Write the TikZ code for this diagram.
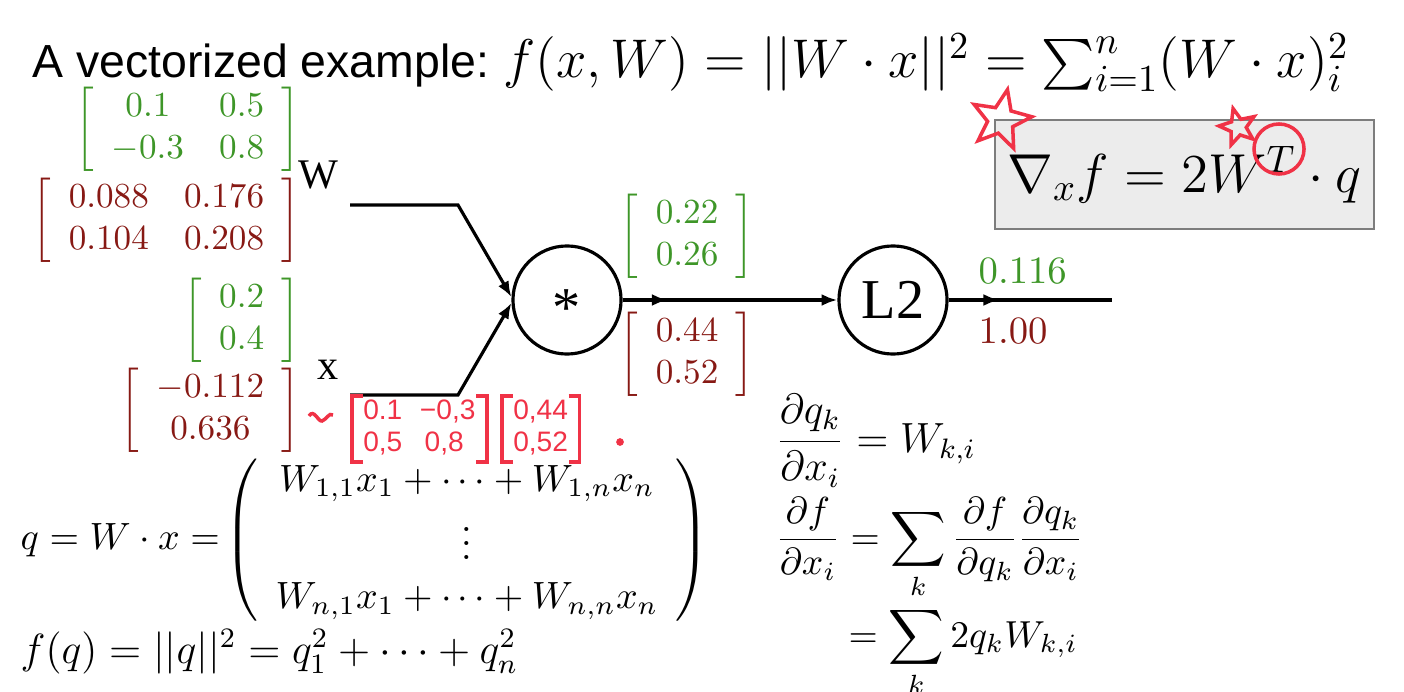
\documentclass[tikz,border=0pt]{standalone}
\usepackage{fix-cm}
\usepackage{amsmath}
\usepackage[no-math]{fontspec}
\newfontfamily\arialfont{Liberation Sans}
\newfontfamily\timesfont{Liberation Serif}
\definecolor{fwdgreen}{RGB}{62,150,40}
\definecolor{bwdred}{RGB}{135,25,20}
\definecolor{penred}{RGB}{240,50,70}
\definecolor{boxgray}{RGB}{236,236,236}
\definecolor{boxedge}{RGB}{125,125,125}
\usetikzlibrary{arrows.meta,positioning,calc,shapes.geometric,decorations.markings}

\begin{document}
\begin{tikzpicture}[x=0.01cm,y=-0.01cm,
  gate/.style={draw,circle,line width=0.9pt,minimum size=1.08cm,inner sep=0pt,font=\timesfont\fontsize{16}{18}\selectfont},
  fwdval/.style={inner sep=0pt,text=fwdgreen,font=\fontsize{10}{12}\selectfont},
  bwdval/.style={inner sep=0pt,text=bwdred,font=\fontsize{10}{12}\selectfont},
  wire/.style={line width=0.9pt},
  tip/.style={-{Latex[length=4.5pt,width=3.4pt]}},
  midtip/.style={postaction={decorate},decoration={markings,mark=at position #1 with {\arrow{Latex[length=4.5pt,width=3.4pt]}}}},
  pen/.style={draw=penred,line width=1pt},
  handnum/.style={inner xsep=3pt,inner ysep=0pt,text=penred,font=\arialfont\fontsize{8}{9.2}\selectfont}]
\useasboundingbox (0,0) rectangle (1404,691);
% heading
\node[anchor=base west,inner sep=0pt,font=\arialfont\fontsize{13.2}{15}\selectfont] (title) at (32,78) {A vectorized example:};
\node[anchor=base west,inner sep=0pt,font=\fontsize{15.5}{18}\selectfont] (fdef) at (503,78) {$f(x,W)=||W\cdot x||^2=\sum_{i=1}^{n}(W\cdot x)_i^2$};
\node[draw=boxedge,fill=boxgray,line width=0.5pt,minimum width=3.79cm,minimum height=1.09cm,inner sep=0pt,font=\fontsize{15.6}{18}\selectfont] (gradbox) at (1184.5,174.5) {$\nabla_x f=2W^T\cdot q$};
% values and gradients
\node[fwdval,anchor=east] (wval) at (301,129) {$\left[\begin{array}{cc}0.1&0.5\\-0.3&0.8\end{array}\right]$};
\node[bwdval,anchor=east] (wgrad) at (301,220) {$\left[\begin{array}{cc}0.088&0.176\\0.104&0.208\end{array}\right]$};
\node[fwdval,anchor=east] (xval) at (301,320) {$\left[\begin{array}{c}0.2\\0.4\end{array}\right]$};
\node[bwdval,anchor=east] (xgrad) at (301,410) {$\left[\begin{array}{c}-0.112\\0.636\end{array}\right]$};
\node[anchor=base west,inner sep=0pt,font=\timesfont\fontsize{12}{14}\selectfont] (wlab) at (298,189) {W};
\node[anchor=base west,inner sep=0pt,font=\timesfont\fontsize{12}{14}\selectfont] (xlab) at (317,379) {x};
\node[gate,text height=1.5em,text depth=0pt] (mul) at (567,300) {*};
\node[gate] (l2) at (893,300) {L2};
\node[fwdval,anchor=west] (qval) at (619,236) {$\left[\begin{array}{c}0.22\\0.26\end{array}\right]$};
\node[bwdval,anchor=west] (qgrad) at (619,354) {$\left[\begin{array}{c}0.44\\0.52\end{array}\right]$};
\node[fwdval,anchor=base west,font=\fontsize{11}{13}\selectfont] (fval) at (978,283) {$0.116$};
\node[bwdval,anchor=base west,font=\fontsize{11}{13}\selectfont] (fgrad) at (978,343) {$1.00$};
% wires
\coordinate (win) at (350,205);
\coordinate (wbend) at (458,205);
\coordinate (xin) at (350,395);
\coordinate (xbend) at (458,395);
\coordinate (out) at (1112,300);
\draw[wire,tip] (win) -- (wbend) -- (mul.177);
\draw[wire,tip] (xin) -- (xbend) -- (mul.183);
\draw[wire,tip,midtip=0.21] (mul) -- (l2);
\draw[wire,midtip=0.31] (l2) -- (out);
% derivation
\node[anchor=west,inner sep=0pt,font=\fontsize{10.8}{13}\selectfont] (qdef) at (20,540) {\renewcommand{\arraystretch}{1.08}$q=W\cdot x=\!\left(\begin{array}{c}W_{1,1}x_1+\cdots+W_{1,n}x_n\\ \vdots\\ W_{n,1}x_1+\cdots+W_{n,n}x_n\end{array}\right)$};
\node[anchor=base west,inner sep=0pt,font=\fontsize{12}{14}\selectfont] (fq) at (20,663) {$f(q)=||q||^2=q_1^2+\cdots+q_n^2$};
\node[anchor=base west,inner sep=0pt,font=\fontsize{12}{14}\selectfont] (dq) at (775,452) {$\displaystyle\frac{\partial q_k}{\partial x_i}=W_{k,i}$};
\node[anchor=base west,inner sep=0pt,font=\fontsize{10.7}{13}\selectfont] (df) at (775,549) {$\displaystyle\frac{\partial f}{\partial x_i}=\sum_k\frac{\partial f}{\partial q_k}\frac{\partial q_k}{\partial x_i}$};
\node[anchor=base west,inner sep=0pt,font=\fontsize{10.7}{13}\selectfont] (dfs) at (848,647) {$\displaystyle=\sum_k 2q_kW_{k,i}$};
% pen marks
\node[star,star points=5,star point ratio=2.3,pen,minimum size=0.62cm,inner sep=0pt,rotate=-12] (bigstar) at (1001,120) {};
\node[star,star points=5,star point ratio=2.3,pen,minimum size=0.38cm,inner sep=0pt,rotate=15] (smallstar) at (1238,127) {};
\node[circle,pen,minimum size=0.5cm] (tring) at (1279,149) {};
\draw[pen] (309,416) .. controls (314,408) and (318,422) .. (322,421) .. controls (326,420) and (329,412) .. (333,415);
\node[handnum,anchor=west] (hwmat) at (352,429) {\begin{tabular}{@{}l@{\hspace{5pt}}l@{}}0.1&−0,3\\0,5&\,0,8\end{tabular}};
\node[handnum,anchor=west] (hwvec) at (502,429) {\begin{tabular}{@{}l@{}}0,44\\0,52\end{tabular}};
\foreach \m in {hwmat,hwvec}{
  \draw[pen] ([xshift=3pt]\m.north west) -- (\m.north west) -- (\m.south west) -- ([xshift=3pt]\m.south west);
  \draw[pen] ([xshift=-3pt]\m.north east) -- (\m.north east) -- (\m.south east) -- ([xshift=-3pt]\m.south east);}
\fill[penred] (620,442) circle (1.1pt);
\end{tikzpicture}
\end{document}
